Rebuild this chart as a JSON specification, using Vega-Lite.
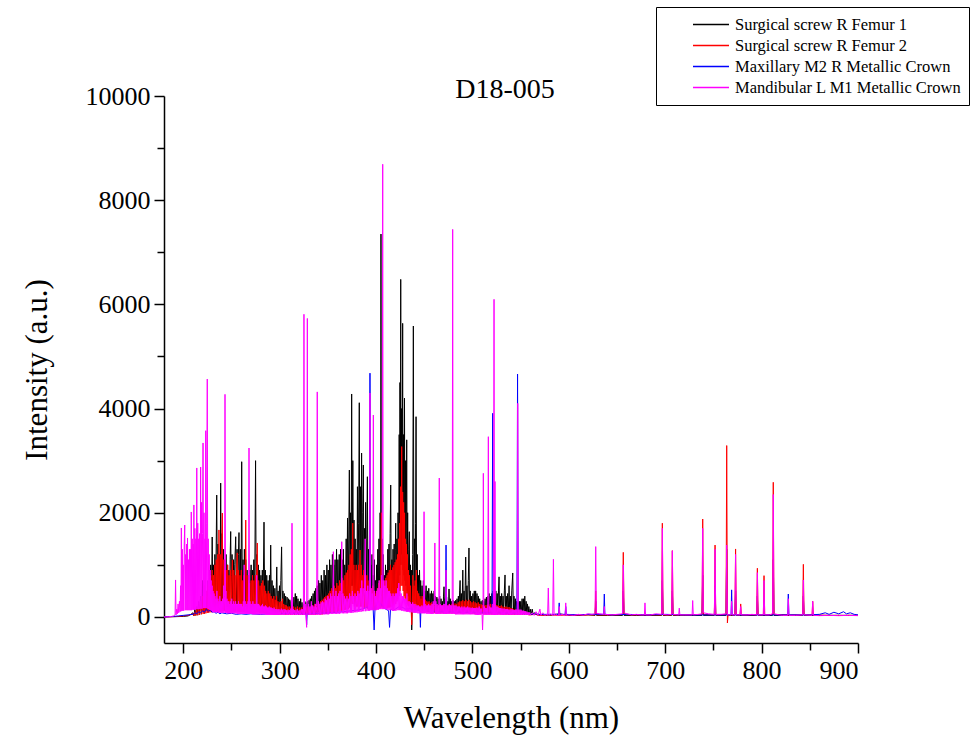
{
"$schema":"https://vega.github.io/schema/vega-lite/v6.json",
"autosize":"none",
"padding":{"left":164,"top":96,"right":121,"bottom":97},
"width":694,"height":547,
"background":"white",
"title":{"text":"D18-005","font":"Liberation Serif","fontSize":28,"fontWeight":"normal","color":"black","anchor":"middle","frame":"group","offset":-4,"dx":-6,"dy":93},
"config":{"view":{"stroke":null},"axis":{"grid":false,"domainColor":"black","tickColor":"black","domainWidth":1.5,"tickWidth":1.5,"labelFont":"Liberation Serif","labelFontSize":26,"labelColor":"black","titleFont":"Liberation Serif","titleFontSize":31,"titleFontWeight":"normal","titleColor":"black"}},
"datasets":{
"k":[{"w":180,"v":0},{"w":190,"v":5},{"w":200,"v":10},{"w":205,"v":20},{"w":208,"v":50},{"w":210,"v":80},{"w":211,"v":20},{"w":212,"v":150},{"w":213,"v":30},{"w":214,"v":200},{"w":215,"v":40},{"w":216,"v":300},{"w":217,"v":50},{"w":218,"v":400},{"w":219,"v":60},{"w":220,"v":700},{"w":220.7,"v":100},{"w":221.4,"v":500},{"w":222.1,"v":100},{"w":222.8,"v":600},{"w":223.5,"v":120},{"w":224.2,"v":500},{"w":225,"v":120},{"w":225.7,"v":700},{"w":226.4,"v":150},{"w":227.1,"v":900},{"w":227.8,"v":150},{"w":228.5,"v":1000},{"w":229.2,"v":180},{"w":230,"v":1535},{"w":230.7,"v":200},{"w":231.4,"v":1000},{"w":232.1,"v":200},{"w":232.8,"v":1200},{"w":233.5,"v":220},{"w":234.7,"v":2340},{"w":235.4,"v":250},{"w":236.1,"v":1400},{"w":236.8,"v":250},{"w":237.5,"v":1200},{"w":238.2,"v":250},{"w":238.8,"v":2570},{"w":239.5,"v":300},{"w":240.2,"v":1600},{"w":240.9,"v":250},{"w":241.6,"v":1300},{"w":242.3,"v":250},{"w":243,"v":1100},{"w":243.7,"v":200},{"w":244.4,"v":1200},{"w":245.1,"v":200},{"w":245.8,"v":1000},{"w":246.5,"v":200},{"w":247.2,"v":900},{"w":248,"v":200},{"w":248.6,"v":1100},{"w":249.2,"v":1640},{"w":249.9,"v":250},{"w":250.6,"v":1200},{"w":251.3,"v":250},{"w":252,"v":1100},{"w":252.7,"v":200},{"w":253.4,"v":1000},{"w":254.4,"v":1540},{"w":255.1,"v":250},{"w":255.8,"v":1300},{"w":256.5,"v":250},{"w":257.2,"v":1200},{"w":257.8,"v":1620},{"w":258.5,"v":250},{"w":259.2,"v":1300},{"w":259.9,"v":250},{"w":260.6,"v":2980},{"w":261.3,"v":250},{"w":262,"v":1100},{"w":262.7,"v":200},{"w":263.4,"v":1300},{"w":264.1,"v":200},{"w":264.8,"v":1100},{"w":265.5,"v":200},{"w":266.2,"v":900},{"w":266.9,"v":180},{"w":267.6,"v":800},{"w":268.3,"v":180},{"w":269,"v":900},{"w":269.7,"v":200},{"w":270.4,"v":1000},{"w":271.1,"v":200},{"w":271.8,"v":900},{"w":272.5,"v":200},{"w":273.2,"v":1100},{"w":274,"v":200},{"w":275,"v":3000},{"w":275.7,"v":250},{"w":276.4,"v":1200},{"w":277.1,"v":250},{"w":277.8,"v":1000},{"w":278.5,"v":200},{"w":279.2,"v":900},{"w":279.9,"v":180},{"w":280.6,"v":800},{"w":281.3,"v":150},{"w":282,"v":900},{"w":282.7,"v":150},{"w":283.75,"v":1820},{"w":284.5,"v":150},{"w":285.2,"v":900},{"w":285.9,"v":150},{"w":286.6,"v":800},{"w":287.3,"v":130},{"w":288,"v":700},{"w":288.7,"v":120},{"w":289.4,"v":800},{"w":290,"v":120},{"w":290.7,"v":1380},{"w":291.4,"v":120},{"w":292.1,"v":700},{"w":292.8,"v":100},{"w":293.5,"v":600},{"w":294.2,"v":100},{"w":295,"v":550},{"w":295.7,"v":100},{"w":296.4,"v":500},{"w":297,"v":960},{"w":297.7,"v":100},{"w":298.4,"v":500},{"w":299.1,"v":100},{"w":299.8,"v":600},{"w":300.5,"v":100},{"w":301.2,"v":700},{"w":302,"v":1345},{"w":302.7,"v":100},{"w":303.4,"v":500},{"w":304.1,"v":90},{"w":304.8,"v":450},{"w":305.5,"v":90},{"w":306.2,"v":400},{"w":307,"v":80},{"w":307.7,"v":380},{"w":308.4,"v":80},{"w":309.1,"v":350},{"w":309.8,"v":80},{"w":310.5,"v":330},{"w":311.2,"v":70},{"w":312,"v":300},{"w":312.7,"v":70},{"w":313.4,"v":300},{"w":314.1,"v":70},{"w":314.8,"v":380},{"w":315.5,"v":70},{"w":316.2,"v":450},{"w":316.9,"v":80},{"w":317.6,"v":400},{"w":318.3,"v":70},{"w":319,"v":350},{"w":319.7,"v":70},{"w":320.4,"v":300},{"w":321.1,"v":60},{"w":321.8,"v":350},{"w":322.5,"v":60},{"w":323.2,"v":280},{"w":324,"v":60},{"w":324.7,"v":250},{"w":325.4,"v":60},{"w":326.1,"v":300},{"w":326.8,"v":60},{"w":327.5,"v":280},{"w":328.2,"v":60},{"w":329,"v":300},{"w":329.7,"v":60},{"w":330.4,"v":320},{"w":331.1,"v":70},{"w":331.8,"v":350},{"w":332.5,"v":70},{"w":333.2,"v":400},{"w":334,"v":70},{"w":334.7,"v":450},{"w":335.4,"v":80},{"w":336.1,"v":500},{"w":336.8,"v":80},{"w":337.5,"v":550},{"w":338.2,"v":90},{"w":339,"v":600},{"w":339.7,"v":90},{"w":340.4,"v":700},{"w":341.1,"v":100},{"w":341.8,"v":650},{"w":342.5,"v":100},{"w":343.2,"v":800},{"w":344,"v":100},{"w":344.7,"v":700},{"w":345.4,"v":110},{"w":346.1,"v":900},{"w":346.8,"v":120},{"w":347.5,"v":800},{"w":348.2,"v":120},{"w":349,"v":1000},{"w":349.7,"v":130},{"w":350.4,"v":900},{"w":351.1,"v":140},{"w":351.8,"v":1100},{"w":352.5,"v":150},{"w":353.2,"v":1000},{"w":354,"v":150},{"w":354.7,"v":1200},{"w":355.4,"v":160},{"w":356.1,"v":1000},{"w":356.8,"v":170},{"w":357.5,"v":1100},{"w":358.2,"v":180},{"w":359,"v":1300},{"w":359.7,"v":190},{"w":360.4,"v":1100},{"w":361.1,"v":200},{"w":361.8,"v":1200},{"w":362.5,"v":200},{"w":363.2,"v":1300},{"w":364,"v":200},{"w":364.7,"v":1100},{"w":365.4,"v":220},{"w":366.1,"v":1300},{"w":366.8,"v":250},{"w":367.5,"v":1000},{"w":368.2,"v":250},{"w":369,"v":1500},{"w":369.7,"v":300},{"w":370.4,"v":1900},{"w":371.1,"v":300},{"w":372.3,"v":2820},{"w":373,"v":400},{"w":373.6,"v":2000},{"w":374.1,"v":600},{"w":374.7,"v":4280},{"w":375.3,"v":600},{"w":375.9,"v":3000},{"w":376.5,"v":500},{"w":377.1,"v":1860},{"w":377.7,"v":400},{"w":378.3,"v":1500},{"w":378.9,"v":400},{"w":379.5,"v":1300},{"w":380.1,"v":400},{"w":380.7,"v":2500},{"w":381.3,"v":500},{"w":381.9,"v":1800},{"w":382.6,"v":4112},{"w":383.2,"v":500},{"w":383.8,"v":2500},{"w":384.4,"v":500},{"w":385,"v":3146},{"w":385.6,"v":500},{"w":386.2,"v":2000},{"w":386.8,"v":2917},{"w":387.4,"v":400},{"w":388,"v":1700},{"w":388.6,"v":400},{"w":389.2,"v":2200},{"w":389.8,"v":400},{"w":390.4,"v":1500},{"w":391,"v":2692},{"w":391.6,"v":350},{"w":392.2,"v":1300},{"w":392.8,"v":300},{"w":393.4,"v":1500},{"w":394,"v":300},{"w":394.6,"v":1000},{"w":395.2,"v":300},{"w":395.8,"v":1200},{"w":396.4,"v":250},{"w":397,"v":800},{"w":397.6,"v":250},{"w":398.2,"v":1100},{"w":398.8,"v":250},{"w":399.4,"v":700},{"w":400,"v":250},{"w":400.6,"v":1000},{"w":401.2,"v":300},{"w":401.8,"v":1300},{"w":402.4,"v":300},{"w":403,"v":1500},{"w":403.6,"v":350},{"w":404.2,"v":2000},{"w":404.7,"v":400},{"w":405.1,"v":7350},{"w":405.6,"v":400},{"w":406.2,"v":1500},{"w":406.8,"v":300},{"w":407.4,"v":1200},{"w":408,"v":300},{"w":408.6,"v":800},{"w":409.2,"v":250},{"w":409.8,"v":1000},{"w":410.4,"v":250},{"w":411,"v":900},{"w":411.6,"v":300},{"w":412.2,"v":1300},{"w":412.8,"v":300},{"w":413.4,"v":1400},{"w":414,"v":350},{"w":414.6,"v":1600},{"w":415.2,"v":2533},{"w":415.8,"v":400},{"w":416.4,"v":1100},{"w":417,"v":350},{"w":417.6,"v":1300},{"w":418.2,"v":350},{"w":418.8,"v":1400},{"w":419.4,"v":400},{"w":420,"v":1300},{"w":420.4,"v":1800},{"w":421,"v":400},{"w":421.6,"v":1500},{"w":422.2,"v":500},{"w":422.8,"v":2000},{"w":423.4,"v":600},{"w":424,"v":3500},{"w":424.5,"v":800},{"w":424.8,"v":4500},{"w":425.2,"v":1000},{"w":425.6,"v":6480},{"w":426,"v":1200},{"w":426.5,"v":4000},{"w":427,"v":1000},{"w":427.6,"v":5636},{"w":428,"v":900},{"w":428.5,"v":3500},{"w":429,"v":800},{"w":429.5,"v":4200},{"w":430,"v":700},{"w":430.5,"v":3000},{"w":431,"v":600},{"w":431.8,"v":3400},{"w":432.3,"v":500},{"w":432.8,"v":2000},{"w":433.3,"v":400},{"w":434,"v":1300},{"w":434.5,"v":1637},{"w":435,"v":300},{"w":435.6,"v":1000},{"w":436.2,"v":250},{"w":436.6,"v":900},{"w":437,"v":-250},{"w":437.5,"v":300},{"w":438,"v":1200},{"w":438.7,"v":5585},{"w":439.3,"v":300},{"w":439.9,"v":1500},{"w":440.5,"v":300},{"w":441,"v":1800},{"w":441.5,"v":3844},{"w":442.1,"v":250},{"w":442.7,"v":1200},{"w":443.3,"v":200},{"w":443.9,"v":800},{"w":444.5,"v":200},{"w":445.1,"v":900},{"w":445.7,"v":180},{"w":446.3,"v":700},{"w":447,"v":180},{"w":447.7,"v":600},{"w":448.4,"v":160},{"w":449.1,"v":700},{"w":449.8,"v":150},{"w":450.5,"v":500},{"w":451.2,"v":150},{"w":451.9,"v":600},{"w":452.6,"v":140},{"w":453.3,"v":500},{"w":454,"v":140},{"w":454.7,"v":550},{"w":455.4,"v":130},{"w":456.1,"v":450},{"w":456.8,"v":130},{"w":457.5,"v":500},{"w":458.2,"v":120},{"w":458.9,"v":450},{"w":459.6,"v":120},{"w":460.3,"v":500},{"w":461,"v":120},{"w":461.7,"v":400},{"w":462.4,"v":110},{"w":463.1,"v":380},{"w":463.8,"v":110},{"w":464.5,"v":350},{"w":465.2,"v":100},{"w":466,"v":400},{"w":466.7,"v":100},{"w":467.4,"v":350},{"w":468.1,"v":100},{"w":468.8,"v":300},{"w":469.5,"v":100},{"w":470,"v":400},{"w":470.5,"v":580},{"w":471.1,"v":100},{"w":471.8,"v":350},{"w":472.5,"v":100},{"w":473.2,"v":380},{"w":473.9,"v":100},{"w":474.6,"v":300},{"w":475.2,"v":100},{"w":475.7,"v":537},{"w":476.3,"v":100},{"w":477,"v":350},{"w":477.7,"v":90},{"w":478.4,"v":300},{"w":479.1,"v":90},{"w":479.8,"v":320},{"w":480.5,"v":90},{"w":481.2,"v":300},{"w":481.9,"v":90},{"w":482.6,"v":320},{"w":483.3,"v":90},{"w":484,"v":350},{"w":484.7,"v":90},{"w":485.4,"v":400},{"w":486.1,"v":100},{"w":486.7,"v":500},{"w":487.2,"v":700},{"w":487.8,"v":100},{"w":488.5,"v":450},{"w":489.2,"v":100},{"w":490,"v":900},{"w":490.6,"v":100},{"w":491.3,"v":500},{"w":492,"v":100},{"w":492.5,"v":600},{"w":493,"v":1150},{"w":493.6,"v":100},{"w":494.3,"v":600},{"w":495,"v":100},{"w":495.7,"v":700},{"w":496.4,"v":1324},{"w":497,"v":100},{"w":497.7,"v":500},{"w":498.4,"v":90},{"w":499.1,"v":400},{"w":499.8,"v":90},{"w":500.5,"v":450},{"w":501.2,"v":90},{"w":501.9,"v":500},{"w":502.6,"v":90},{"w":503.3,"v":500},{"w":504,"v":90},{"w":504.7,"v":450},{"w":505.4,"v":90},{"w":506.1,"v":400},{"w":506.8,"v":80},{"w":507.5,"v":350},{"w":508.2,"v":80},{"w":508.9,"v":300},{"w":509.6,"v":80},{"w":510.3,"v":320},{"w":511,"v":80},{"w":511.7,"v":300},{"w":512.4,"v":80},{"w":513.1,"v":350},{"w":513.8,"v":80},{"w":514.5,"v":380},{"w":515.2,"v":80},{"w":515.9,"v":400},{"w":516.6,"v":80},{"w":517.3,"v":450},{"w":518,"v":80},{"w":518.7,"v":400},{"w":519.4,"v":80},{"w":520.1,"v":450},{"w":520.8,"v":80},{"w":521.5,"v":500},{"w":522.2,"v":80},{"w":522.9,"v":450},{"w":523.6,"v":80},{"w":524.3,"v":500},{"w":525,"v":80},{"w":525.7,"v":450},{"w":526.4,"v":80},{"w":527,"v":500},{"w":527.6,"v":770},{"w":528.2,"v":80},{"w":528.9,"v":400},{"w":529.6,"v":80},{"w":530.3,"v":450},{"w":531,"v":80},{"w":531.7,"v":400},{"w":532.4,"v":80},{"w":533.1,"v":500},{"w":533.8,"v":806},{"w":534.4,"v":80},{"w":535.1,"v":400},{"w":535.8,"v":80},{"w":536.5,"v":450},{"w":537.2,"v":80},{"w":538,"v":600},{"w":538.7,"v":80},{"w":539.4,"v":400},{"w":540.1,"v":80},{"w":540.8,"v":500},{"w":541.8,"v":844},{"w":542.4,"v":80},{"w":543.1,"v":400},{"w":543.8,"v":70},{"w":544.5,"v":350},{"w":545.2,"v":70},{"w":545.9,"v":300},{"w":546.6,"v":60},{"w":547.3,"v":280},{"w":548,"v":60},{"w":548.7,"v":300},{"w":549.4,"v":60},{"w":550.1,"v":300},{"w":550.8,"v":60},{"w":551.5,"v":350},{"w":552.2,"v":60},{"w":552.9,"v":350},{"w":553.6,"v":60},{"w":554.3,"v":400},{"w":555,"v":60},{"w":555.7,"v":300},{"w":556.4,"v":50},{"w":557.1,"v":250},{"w":557.8,"v":50},{"w":558.5,"v":200},{"w":559.2,"v":50},{"w":560,"v":150},{"w":561,"v":40},{"w":562,"v":150},{"w":563,"v":40},{"w":564,"v":80},{"w":567,"v":40},{"w":570,"v":40},{"w":580,"v":30},{"w":590,"v":60},{"w":600,"v":30},{"w":610,"v":30},{"w":620,"v":40},{"w":627.2,"v":30},{"w":628,"v":300},{"w":628.8,"v":30},{"w":640,"v":30},{"w":655.7,"v":30},{"w":656.5,"v":500},{"w":657.3,"v":30},{"w":670,"v":30},{"w":696.2,"v":30},{"w":697,"v":700},{"w":697.8,"v":30},{"w":706.6,"v":30},{"w":707.4,"v":500},{"w":708.2,"v":30},{"w":738.1,"v":30},{"w":738.9,"v":800},{"w":739.7,"v":30},{"w":750.9,"v":30},{"w":751.7,"v":600},{"w":752.5,"v":30},{"w":763,"v":30},{"w":763.8,"v":1300},{"w":764.6,"v":30},{"w":772.2,"v":30},{"w":773,"v":500},{"w":773.8,"v":30},{"w":794.8,"v":30},{"w":795.6,"v":400},{"w":796.4,"v":30},{"w":811.3,"v":30},{"w":812.1,"v":1100},{"w":812.9,"v":30},{"w":842.5,"v":30},{"w":843.3,"v":400},{"w":844.1,"v":30},{"w":870,"v":30},{"w":900,"v":30}],
"r":[{"w":180,"v":0},{"w":195,"v":10},{"w":205,"v":30},{"w":210,"v":60},{"w":211,"v":20},{"w":212,"v":100},{"w":213,"v":30},{"w":214,"v":150},{"w":215,"v":30},{"w":216,"v":200},{"w":217,"v":40},{"w":218,"v":300},{"w":219,"v":50},{"w":220,"v":400},{"w":220.7,"v":60},{"w":221.4,"v":500},{"w":222.1,"v":60},{"w":222.8,"v":600},{"w":223.5,"v":70},{"w":224.2,"v":500},{"w":225,"v":80},{"w":225.7,"v":600},{"w":226.4,"v":80},{"w":227.1,"v":700},{"w":227.8,"v":90},{"w":228.5,"v":800},{"w":229.2,"v":90},{"w":230,"v":900},{"w":230.7,"v":100},{"w":231.4,"v":800},{"w":232.1,"v":100},{"w":232.8,"v":1000},{"w":233.5,"v":100},{"w":234.2,"v":1100},{"w":235,"v":110},{"w":235.7,"v":1200},{"w":236.4,"v":110},{"w":237,"v":1670},{"w":237.7,"v":120},{"w":238.4,"v":1200},{"w":239.1,"v":120},{"w":239.8,"v":1300},{"w":240.5,"v":1995},{"w":241.2,"v":120},{"w":241.9,"v":1100},{"w":242.6,"v":120},{"w":243.3,"v":900},{"w":244,"v":110},{"w":244.7,"v":900},{"w":245.4,"v":110},{"w":246.1,"v":1000},{"w":246.8,"v":110},{"w":247.5,"v":800},{"w":248.2,"v":100},{"w":249,"v":900},{"w":249.7,"v":100},{"w":250.4,"v":800},{"w":251,"v":1095},{"w":251.7,"v":100},{"w":252.4,"v":900},{"w":253.1,"v":100},{"w":253.8,"v":800},{"w":254.5,"v":100},{"w":255.2,"v":900},{"w":256,"v":1230},{"w":256.7,"v":100},{"w":257.4,"v":900},{"w":258.1,"v":100},{"w":258.8,"v":800},{"w":259.5,"v":100},{"w":260.2,"v":900},{"w":260.9,"v":100},{"w":261.6,"v":700},{"w":262.3,"v":100},{"w":263,"v":800},{"w":263.7,"v":100},{"w":264.3,"v":900},{"w":264.8,"v":1860},{"w":265.5,"v":100},{"w":266.2,"v":800},{"w":266.9,"v":100},{"w":267.6,"v":700},{"w":268.3,"v":90},{"w":269,"v":650},{"w":269.7,"v":90},{"w":270.4,"v":700},{"w":271.1,"v":90},{"w":271.8,"v":800},{"w":272.5,"v":90},{"w":273.2,"v":700},{"w":274,"v":90},{"w":274.7,"v":800},{"w":275.4,"v":90},{"w":276.1,"v":900},{"w":276.8,"v":1420},{"w":277.5,"v":90},{"w":278.2,"v":700},{"w":279,"v":80},{"w":279.7,"v":600},{"w":280.4,"v":80},{"w":281.1,"v":650},{"w":281.8,"v":80},{"w":282.5,"v":700},{"w":283.2,"v":80},{"w":284,"v":600},{"w":284.7,"v":70},{"w":285.4,"v":500},{"w":286.1,"v":70},{"w":286.8,"v":450},{"w":287.5,"v":70},{"w":288.2,"v":500},{"w":289,"v":60},{"w":289.7,"v":450},{"w":290.4,"v":60},{"w":291.1,"v":400},{"w":291.8,"v":60},{"w":292.5,"v":350},{"w":293.2,"v":50},{"w":294,"v":400},{"w":294.7,"v":50},{"w":295.4,"v":330},{"w":296.1,"v":50},{"w":296.8,"v":400},{"w":297.5,"v":50},{"w":298.2,"v":300},{"w":299,"v":50},{"w":300,"v":280},{"w":300.7,"v":50},{"w":301.4,"v":300},{"w":302.1,"v":50},{"w":302.8,"v":350},{"w":303.5,"v":50},{"w":304.2,"v":250},{"w":305,"v":50},{"w":305.7,"v":230},{"w":306.4,"v":40},{"w":307.1,"v":220},{"w":307.8,"v":40},{"w":308.5,"v":200},{"w":309.5,"v":40},{"w":310.5,"v":200},{"w":311.5,"v":40},{"w":312.5,"v":180},{"w":313.5,"v":40},{"w":314.5,"v":200},{"w":315.5,"v":40},{"w":316.5,"v":180},{"w":317.5,"v":40},{"w":318.5,"v":200},{"w":319.5,"v":40},{"w":320.5,"v":180},{"w":321.5,"v":40},{"w":322.5,"v":180},{"w":323.5,"v":40},{"w":324.5,"v":200},{"w":325.5,"v":40},{"w":326.5,"v":180},{"w":327.5,"v":40},{"w":328.5,"v":200},{"w":329.5,"v":40},{"w":330.5,"v":180},{"w":331.5,"v":40},{"w":332.5,"v":200},{"w":333.5,"v":40},{"w":334.5,"v":220},{"w":335.5,"v":40},{"w":336.5,"v":250},{"w":337.5,"v":40},{"w":338.5,"v":250},{"w":339.5,"v":50},{"w":340.5,"v":280},{"w":341.5,"v":50},{"w":342.5,"v":300},{"w":343.2,"v":50},{"w":343.9,"v":320},{"w":344.6,"v":50},{"w":345.3,"v":350},{"w":346,"v":60},{"w":346.7,"v":380},{"w":347.4,"v":60},{"w":348.1,"v":400},{"w":348.8,"v":60},{"w":349.5,"v":420},{"w":350.2,"v":70},{"w":350.9,"v":450},{"w":351.6,"v":70},{"w":352.3,"v":500},{"w":353,"v":80},{"w":353.7,"v":550},{"w":354.4,"v":80},{"w":355.1,"v":500},{"w":355.8,"v":90},{"w":356.5,"v":600},{"w":357.2,"v":90},{"w":357.9,"v":550},{"w":358.6,"v":100},{"w":359.3,"v":650},{"w":360,"v":100},{"w":360.7,"v":600},{"w":361.4,"v":110},{"w":362.1,"v":700},{"w":362.8,"v":110},{"w":363.5,"v":650},{"w":364.2,"v":120},{"w":364.9,"v":750},{"w":365.6,"v":120},{"w":366.3,"v":700},{"w":367,"v":130},{"w":367.7,"v":800},{"w":368.4,"v":140},{"w":369.1,"v":850},{"w":369.8,"v":150},{"w":370.5,"v":900},{"w":371.2,"v":150},{"w":371.9,"v":1000},{"w":372.6,"v":180},{"w":373.2,"v":1200},{"w":373.8,"v":200},{"w":374.4,"v":1300},{"w":375.1,"v":250},{"w":375.8,"v":1800},{"w":376.4,"v":250},{"w":377,"v":1000},{"w":377.6,"v":200},{"w":378.2,"v":900},{"w":378.8,"v":200},{"w":379.4,"v":1000},{"w":380,"v":200},{"w":380.6,"v":900},{"w":381.2,"v":200},{"w":381.8,"v":1000},{"w":382.5,"v":200},{"w":383.4,"v":1285},{"w":384,"v":200},{"w":384.6,"v":1000},{"w":385.2,"v":200},{"w":385.8,"v":800},{"w":386.4,"v":180},{"w":387,"v":900},{"w":387.6,"v":180},{"w":388.2,"v":800},{"w":388.8,"v":170},{"w":389.4,"v":700},{"w":390,"v":170},{"w":390.6,"v":800},{"w":391.2,"v":160},{"w":391.8,"v":700},{"w":392.4,"v":150},{"w":393,"v":650},{"w":393.6,"v":150},{"w":394.2,"v":600},{"w":394.8,"v":150},{"w":395.4,"v":550},{"w":396,"v":140},{"w":396.6,"v":600},{"w":397.2,"v":140},{"w":397.8,"v":500},{"w":398.4,"v":140},{"w":399,"v":450},{"w":399.6,"v":140},{"w":400.2,"v":500},{"w":400.8,"v":150},{"w":401.4,"v":550},{"w":402,"v":150},{"w":402.6,"v":650},{"w":403.2,"v":160},{"w":403.8,"v":700},{"w":404.4,"v":170},{"w":405,"v":900},{"w":405.5,"v":2000},{"w":406,"v":180},{"w":406.6,"v":700},{"w":407.2,"v":170},{"w":407.8,"v":650},{"w":408.4,"v":160},{"w":409,"v":700},{"w":409.6,"v":160},{"w":410.2,"v":750},{"w":410.8,"v":170},{"w":411.4,"v":800},{"w":412,"v":170},{"w":412.6,"v":850},{"w":413.2,"v":180},{"w":413.8,"v":900},{"w":414.4,"v":180},{"w":415,"v":1000},{"w":415.6,"v":200},{"w":416.2,"v":900},{"w":416.8,"v":200},{"w":417.4,"v":950},{"w":418,"v":220},{"w":418.6,"v":1000},{"w":419.2,"v":230},{"w":419.8,"v":1050},{"w":420.4,"v":250},{"w":421,"v":1100},{"w":421.6,"v":300},{"w":422.2,"v":1200},{"w":422.8,"v":350},{"w":423.4,"v":1500},{"w":423.9,"v":400},{"w":424.4,"v":1800},{"w":424.9,"v":500},{"w":425.4,"v":2500},{"w":425.9,"v":600},{"w":426.6,"v":3270},{"w":427.1,"v":600},{"w":427.6,"v":2400},{"w":428.1,"v":500},{"w":428.6,"v":2200},{"w":429.1,"v":400},{"w":429.6,"v":2000},{"w":430.1,"v":350},{"w":430.6,"v":1500},{"w":431.1,"v":300},{"w":431.6,"v":1400},{"w":432.1,"v":250},{"w":432.6,"v":1200},{"w":433.1,"v":220},{"w":433.6,"v":900},{"w":434.1,"v":200},{"w":434.6,"v":800},{"w":435.2,"v":180},{"w":435.8,"v":600},{"w":436.4,"v":150},{"w":437,"v":-150},{"w":437.6,"v":150},{"w":438.2,"v":800},{"w":438.8,"v":150},{"w":439.4,"v":600},{"w":440,"v":150},{"w":440.6,"v":700},{"w":441.2,"v":140},{"w":441.8,"v":900},{"w":442.4,"v":140},{"w":443,"v":500},{"w":443.6,"v":130},{"w":444.2,"v":450},{"w":444.8,"v":120},{"w":445.4,"v":400},{"w":446,"v":120},{"w":446.6,"v":350},{"w":447.2,"v":110},{"w":447.8,"v":400},{"w":448.4,"v":110},{"w":449,"v":350},{"w":449.6,"v":100},{"w":450.2,"v":300},{"w":450.8,"v":100},{"w":451.4,"v":330},{"w":452,"v":100},{"w":452.6,"v":300},{"w":453.2,"v":90},{"w":453.8,"v":280},{"w":454.4,"v":90},{"w":455,"v":300},{"w":455.6,"v":90},{"w":456.2,"v":260},{"w":456.8,"v":80},{"w":457.4,"v":280},{"w":458,"v":80},{"w":458.6,"v":250},{"w":459.2,"v":80},{"w":459.8,"v":260},{"w":460.5,"v":80},{"w":461.2,"v":250},{"w":462,"v":80},{"w":462.8,"v":240},{"w":463.6,"v":70},{"w":464.4,"v":230},{"w":465.2,"v":70},{"w":466,"v":240},{"w":466.8,"v":70},{"w":467.6,"v":220},{"w":468.4,"v":70},{"w":469.2,"v":230},{"w":470,"v":70},{"w":470.8,"v":220},{"w":471.6,"v":70},{"w":472.4,"v":230},{"w":473.2,"v":70},{"w":474,"v":220},{"w":474.8,"v":70},{"w":475.6,"v":240},{"w":476.4,"v":70},{"w":477.2,"v":230},{"w":478,"v":70},{"w":478.8,"v":250},{"w":479.6,"v":70},{"w":480.4,"v":240},{"w":481.2,"v":70},{"w":482,"v":260},{"w":482.8,"v":70},{"w":483.6,"v":250},{"w":484.4,"v":70},{"w":485.2,"v":280},{"w":486,"v":70},{"w":486.8,"v":300},{"w":487.6,"v":70},{"w":488.4,"v":300},{"w":489.2,"v":70},{"w":490,"v":320},{"w":490.8,"v":70},{"w":491.6,"v":300},{"w":492.4,"v":70},{"w":493.2,"v":330},{"w":494,"v":70},{"w":494.8,"v":300},{"w":495.6,"v":70},{"w":496.4,"v":330},{"w":497.2,"v":70},{"w":498,"v":300},{"w":498.8,"v":60},{"w":499.6,"v":280},{"w":500.4,"v":60},{"w":501.2,"v":300},{"w":502,"v":60},{"w":502.8,"v":280},{"w":503.6,"v":60},{"w":504.4,"v":260},{"w":505.2,"v":60},{"w":506,"v":280},{"w":506.8,"v":60},{"w":507.6,"v":250},{"w":508.4,"v":60},{"w":509.2,"v":240},{"w":510,"v":60},{"w":510.8,"v":230},{"w":511.6,"v":60},{"w":512.4,"v":220},{"w":513.2,"v":50},{"w":514,"v":230},{"w":514.8,"v":50},{"w":515.6,"v":220},{"w":516.4,"v":50},{"w":517.2,"v":240},{"w":518,"v":50},{"w":518.8,"v":250},{"w":519.6,"v":50},{"w":520.4,"v":240},{"w":521.2,"v":50},{"w":522,"v":260},{"w":522.8,"v":50},{"w":523.6,"v":240},{"w":524.4,"v":50},{"w":525.2,"v":230},{"w":526,"v":50},{"w":526.8,"v":220},{"w":527.6,"v":50},{"w":528.4,"v":210},{"w":529.2,"v":50},{"w":530,"v":220},{"w":530.8,"v":45},{"w":531.6,"v":200},{"w":532.4,"v":45},{"w":533.2,"v":190},{"w":534,"v":45},{"w":534.8,"v":200},{"w":535.6,"v":45},{"w":536.4,"v":180},{"w":537.2,"v":40},{"w":538,"v":190},{"w":538.8,"v":40},{"w":539.6,"v":170},{"w":540.4,"v":40},{"w":541.2,"v":170},{"w":542,"v":40},{"w":542.8,"v":150},{"w":543.6,"v":40},{"w":544.4,"v":140},{"w":545.2,"v":40},{"w":546,"v":150},{"w":546.8,"v":40},{"w":547.6,"v":130},{"w":548.4,"v":40},{"w":549.2,"v":120},{"w":550,"v":40},{"w":551,"v":110},{"w":552,"v":40},{"w":553,"v":100},{"w":554,"v":40},{"w":555,"v":100},{"w":556,"v":40},{"w":557,"v":80},{"w":558,"v":40},{"w":560,"v":40},{"w":565,"v":50},{"w":570,"v":30},{"w":580,"v":40},{"w":590,"v":30},{"w":600,"v":40},{"w":610,"v":30},{"w":620,"v":40},{"w":627.2,"v":40},{"w":627.9,"v":500},{"w":628.6,"v":40},{"w":640,"v":40},{"w":650,"v":40},{"w":655.7,"v":50},{"w":656.5,"v":1240},{"w":657.3,"v":60},{"w":665,"v":40},{"w":680,"v":40},{"w":690,"v":40},{"w":696.3,"v":40},{"w":697,"v":1800},{"w":697.7,"v":40},{"w":706.7,"v":40},{"w":707.4,"v":1272},{"w":708.1,"v":40},{"w":720,"v":40},{"w":738.2,"v":50},{"w":738.9,"v":1880},{"w":739.6,"v":50},{"w":751,"v":40},{"w":751.7,"v":1380},{"w":752.4,"v":40},{"w":763.1,"v":50},{"w":763.8,"v":3290},{"w":764.5,"v":-115},{"w":765.2,"v":40},{"w":772.3,"v":40},{"w":773,"v":1305},{"w":773.7,"v":40},{"w":777.6,"v":40},{"w":778.3,"v":250},{"w":779,"v":40},{"w":794.9,"v":40},{"w":795.6,"v":935},{"w":796.3,"v":40},{"w":801.8,"v":40},{"w":802.5,"v":793},{"w":803.2,"v":40},{"w":811.4,"v":50},{"w":812.1,"v":2585},{"w":812.8,"v":50},{"w":830,"v":40},{"w":842.6,"v":40},{"w":843.3,"v":1010},{"w":844,"v":40},{"w":852.4,"v":40},{"w":853,"v":300},{"w":853.7,"v":40},{"w":870,"v":30},{"w":900,"v":30}],
"b":[{"w":180,"v":0},{"w":190,"v":10},{"w":195,"v":20},{"w":200,"v":30},{"w":205,"v":40},{"w":210,"v":50},{"w":212,"v":80},{"w":214,"v":60},{"w":216,"v":100},{"w":218,"v":80},{"w":220,"v":120},{"w":222,"v":90},{"w":224,"v":150},{"w":226,"v":110},{"w":228,"v":130},{"w":230,"v":90},{"w":232,"v":100},{"w":234,"v":70},{"w":236,"v":90},{"w":238,"v":60},{"w":240,"v":80},{"w":245,"v":60},{"w":250,"v":70},{"w":255,"v":50},{"w":260,"v":60},{"w":265,"v":50},{"w":270,"v":60},{"w":280,"v":50},{"w":290,"v":60},{"w":300,"v":60},{"w":310,"v":70},{"w":320,"v":60},{"w":327.5,"v":60},{"w":328,"v":-150},{"w":328.5,"v":60},{"w":340,"v":70},{"w":350,"v":80},{"w":360,"v":90},{"w":370,"v":110},{"w":380,"v":130},{"w":385,"v":150},{"w":390,"v":180},{"w":393,"v":200},{"w":393.7,"v":4680},{"w":394.4,"v":200},{"w":397,"v":150},{"w":398,"v":-250},{"w":399,"v":200},{"w":401,"v":250},{"w":403,"v":300},{"w":405,"v":250},{"w":407,"v":200},{"w":410,"v":150},{"w":413,"v":120},{"w":414,"v":-200},{"w":415,"v":150},{"w":418,"v":130},{"w":420,"v":150},{"w":424,"v":200},{"w":428,"v":180},{"w":430,"v":150},{"w":434,"v":160},{"w":438,"v":150},{"w":442,"v":130},{"w":445.5,"v":120},{"w":446,"v":-200},{"w":446.5,"v":120},{"w":450,"v":130},{"w":455,"v":110},{"w":460,"v":110},{"w":465,"v":100},{"w":471.9,"v":100},{"w":472.6,"v":1380},{"w":473.3,"v":100},{"w":480,"v":100},{"w":490,"v":90},{"w":500,"v":90},{"w":510,"v":80},{"w":520.3,"v":80},{"w":521,"v":3909},{"w":521.7,"v":80},{"w":530,"v":80},{"w":540,"v":70},{"w":546.1,"v":70},{"w":546.8,"v":4663},{"w":547.5,"v":70},{"w":555,"v":60},{"w":560,"v":50},{"w":565,"v":60},{"w":570,"v":50},{"w":580,"v":50},{"w":589.4,"v":50},{"w":590,"v":270},{"w":590.6,"v":50},{"w":596.2,"v":50},{"w":596.8,"v":200},{"w":597.4,"v":50},{"w":610,"v":40},{"w":620,"v":50},{"w":630,"v":50},{"w":636.2,"v":50},{"w":636.8,"v":440},{"w":637.4,"v":50},{"w":645,"v":40},{"w":660,"v":50},{"w":680,"v":40},{"w":700,"v":50},{"w":720,"v":40},{"w":740,"v":40},{"w":760,"v":40},{"w":768.3,"v":40},{"w":768.9,"v":520},{"w":769.5,"v":40},{"w":790,"v":40},{"w":810,"v":40},{"w":827.1,"v":40},{"w":827.7,"v":440},{"w":828.3,"v":40},{"w":850,"v":40},{"w":860,"v":50},{"w":866,"v":80},{"w":870,"v":50},{"w":875,"v":90},{"w":880,"v":60},{"w":885,"v":100},{"w":888,"v":60},{"w":892,"v":80},{"w":896,"v":50},{"w":900,"v":40}],
"m":[{"w":180,"v":0},{"w":185,"v":5},{"w":188,"v":10},{"w":190,"v":20},{"w":191.5,"v":40},{"w":192,"v":710},{"w":192.5,"v":40},{"w":193.2,"v":150},{"w":193.9,"v":60},{"w":194.6,"v":250},{"w":195.3,"v":80},{"w":196,"v":300},{"w":196.6,"v":100},{"w":197.2,"v":600},{"w":197.6,"v":110},{"w":198,"v":1708},{"w":198.5,"v":120},{"w":199,"v":1300},{"w":199.5,"v":120},{"w":200,"v":1000},{"w":200.5,"v":120},{"w":201,"v":1400},{"w":201.5,"v":1765},{"w":202,"v":130},{"w":202.5,"v":1200},{"w":203,"v":130},{"w":203.5,"v":1400},{"w":204,"v":130},{"w":204.4,"v":1516},{"w":204.9,"v":130},{"w":205.4,"v":1100},{"w":205.9,"v":130},{"w":206.4,"v":1300},{"w":206.9,"v":130},{"w":207.4,"v":1300},{"w":207.9,"v":130},{"w":208.3,"v":2015},{"w":208.8,"v":130},{"w":209.3,"v":1500},{"w":209.8,"v":140},{"w":210.3,"v":1400},{"w":210.7,"v":140},{"w":211,"v":2150},{"w":211.5,"v":140},{"w":212,"v":1700},{"w":212.5,"v":140},{"w":213,"v":1500},{"w":213.5,"v":150},{"w":214,"v":2860},{"w":214.5,"v":150},{"w":215,"v":1800},{"w":215.5,"v":150},{"w":216,"v":1500},{"w":216.5,"v":150},{"w":217,"v":1600},{"w":217.5,"v":160},{"w":218,"v":2878},{"w":218.5,"v":160},{"w":219,"v":2200},{"w":219.5,"v":160},{"w":220,"v":1600},{"w":220.5,"v":3340},{"w":221,"v":170},{"w":221.5,"v":2000},{"w":222,"v":170},{"w":222.5,"v":1500},{"w":223,"v":170},{"w":223.3,"v":3575},{"w":223.8,"v":170},{"w":224.3,"v":1800},{"w":224.9,"v":4567},{"w":225.4,"v":160},{"w":225.9,"v":1500},{"w":226.4,"v":150},{"w":226.9,"v":1200},{"w":227.4,"v":140},{"w":227.9,"v":900},{"w":228.4,"v":130},{"w":228.9,"v":700},{"w":229.4,"v":120},{"w":229.9,"v":600},{"w":230.4,"v":90},{"w":230.9,"v":500},{"w":231.4,"v":90},{"w":231.9,"v":450},{"w":232.4,"v":90},{"w":232.9,"v":400},{"w":233.4,"v":90},{"w":233.9,"v":350},{"w":234.4,"v":90},{"w":234.9,"v":500},{"w":235.4,"v":90},{"w":235.9,"v":350},{"w":236.4,"v":80},{"w":236.9,"v":300},{"w":237.4,"v":80},{"w":237.9,"v":400},{"w":238.4,"v":80},{"w":238.9,"v":300},{"w":239.4,"v":80},{"w":239.9,"v":300},{"w":240.4,"v":80},{"w":240.9,"v":350},{"w":241.4,"v":80},{"w":241.9,"v":600},{"w":242.4,"v":80},{"w":242.9,"v":400},{"w":243.3,"v":4273},{"w":243.8,"v":80},{"w":244.3,"v":500},{"w":244.8,"v":80},{"w":245.3,"v":350},{"w":245.8,"v":70},{"w":246.3,"v":300},{"w":246.8,"v":70},{"w":247.3,"v":300},{"w":247.8,"v":70},{"w":248.3,"v":250},{"w":248.8,"v":70},{"w":249.3,"v":300},{"w":249.8,"v":70},{"w":250.3,"v":350},{"w":250.8,"v":70},{"w":251.3,"v":250},{"w":251.8,"v":70},{"w":252.3,"v":300},{"w":252.8,"v":70},{"w":253.3,"v":250},{"w":253.8,"v":70},{"w":254.3,"v":300},{"w":254.8,"v":70},{"w":255.3,"v":250},{"w":255.8,"v":60},{"w":256.3,"v":250},{"w":256.8,"v":60},{"w":257.3,"v":300},{"w":257.8,"v":60},{"w":258.3,"v":250},{"w":258.8,"v":60},{"w":259.3,"v":250},{"w":259.8,"v":60},{"w":260.3,"v":250},{"w":260.8,"v":60},{"w":261.3,"v":200},{"w":261.8,"v":60},{"w":262.3,"v":300},{"w":262.8,"v":60},{"w":263.2,"v":1000},{"w":263.7,"v":60},{"w":264.2,"v":300},{"w":264.7,"v":60},{"w":265.2,"v":250},{"w":265.7,"v":60},{"w":266.2,"v":250},{"w":266.7,"v":60},{"w":267.2,"v":300},{"w":267.7,"v":60},{"w":268.2,"v":3243},{"w":268.7,"v":60},{"w":269.2,"v":300},{"w":269.7,"v":60},{"w":270.2,"v":250},{"w":270.7,"v":60},{"w":271.2,"v":250},{"w":271.7,"v":50},{"w":272.2,"v":300},{"w":272.7,"v":50},{"w":273.2,"v":250},{"w":273.7,"v":50},{"w":274.2,"v":250},{"w":274.7,"v":50},{"w":275.2,"v":250},{"w":275.7,"v":50},{"w":276.2,"v":800},{"w":276.7,"v":50},{"w":277.2,"v":250},{"w":277.7,"v":50},{"w":278.2,"v":250},{"w":278.7,"v":50},{"w":279.2,"v":220},{"w":279.7,"v":50},{"w":280.2,"v":200},{"w":280.7,"v":50},{"w":281.2,"v":220},{"w":281.7,"v":50},{"w":282.2,"v":250},{"w":282.7,"v":50},{"w":283.2,"v":200},{"w":283.7,"v":50},{"w":284.2,"v":200},{"w":284.7,"v":50},{"w":285.2,"v":220},{"w":285.7,"v":40},{"w":286.2,"v":200},{"w":286.7,"v":40},{"w":287.2,"v":180},{"w":287.7,"v":40},{"w":288.2,"v":180},{"w":288.7,"v":40},{"w":289.2,"v":200},{"w":289.7,"v":40},{"w":290.2,"v":180},{"w":290.7,"v":40},{"w":291.2,"v":180},{"w":291.7,"v":40},{"w":292.2,"v":170},{"w":292.7,"v":40},{"w":293.2,"v":150},{"w":293.7,"v":40},{"w":294.2,"v":180},{"w":294.7,"v":40},{"w":295.2,"v":150},{"w":295.7,"v":40},{"w":296.2,"v":150},{"w":296.7,"v":40},{"w":297.2,"v":150},{"w":297.7,"v":40},{"w":298.2,"v":140},{"w":298.7,"v":40},{"w":299.2,"v":150},{"w":299.7,"v":40},{"w":300.4,"v":140},{"w":301.1,"v":40},{"w":301.8,"v":160},{"w":302.5,"v":40},{"w":303.2,"v":140},{"w":303.9,"v":40},{"w":304.6,"v":150},{"w":305.3,"v":40},{"w":306,"v":140},{"w":306.7,"v":40},{"w":307.4,"v":130},{"w":308.1,"v":40},{"w":308.8,"v":140},{"w":309.5,"v":40},{"w":310.2,"v":130},{"w":310.9,"v":40},{"w":311.6,"v":160},{"w":312.2,"v":40},{"w":312.8,"v":1800},{"w":313.4,"v":40},{"w":314.1,"v":150},{"w":314.8,"v":40},{"w":315.5,"v":130},{"w":316.2,"v":40},{"w":316.9,"v":130},{"w":317.6,"v":40},{"w":318.3,"v":150},{"w":319,"v":40},{"w":319.7,"v":120},{"w":320.4,"v":40},{"w":321.1,"v":130},{"w":321.8,"v":40},{"w":322.5,"v":150},{"w":323.2,"v":40},{"w":323.9,"v":150},{"w":324.6,"v":40},{"w":325.2,"v":5810},{"w":325.8,"v":40},{"w":326.5,"v":250},{"w":327.2,"v":40},{"w":328,"v":-200},{"w":328.7,"v":5730},{"w":329.3,"v":40},{"w":330,"v":250},{"w":330.7,"v":40},{"w":331.4,"v":200},{"w":332.1,"v":40},{"w":332.8,"v":300},{"w":333.5,"v":40},{"w":334.2,"v":220},{"w":334.9,"v":40},{"w":335.6,"v":200},{"w":336.3,"v":40},{"w":337,"v":250},{"w":337.7,"v":40},{"w":338.4,"v":200},{"w":339,"v":4320},{"w":339.6,"v":40},{"w":340.3,"v":300},{"w":341,"v":40},{"w":341.7,"v":250},{"w":342.4,"v":40},{"w":343.1,"v":280},{"w":343.8,"v":50},{"w":344.5,"v":300},{"w":345.2,"v":50},{"w":345.9,"v":280},{"w":346.6,"v":50},{"w":347.3,"v":350},{"w":348,"v":50},{"w":348.7,"v":320},{"w":349.4,"v":50},{"w":350.1,"v":400},{"w":350.8,"v":50},{"w":351.5,"v":350},{"w":352.2,"v":60},{"w":352.9,"v":450},{"w":353.6,"v":60},{"w":354.3,"v":400},{"w":355,"v":60},{"w":355.7,"v":1253},{"w":356.3,"v":60},{"w":357,"v":400},{"w":357.7,"v":60},{"w":358.4,"v":500},{"w":359.1,"v":60},{"w":359.8,"v":400},{"w":360.5,"v":60},{"w":361.2,"v":450},{"w":361.9,"v":60},{"w":362.6,"v":500},{"w":363.3,"v":70},{"w":364,"v":450},{"w":364.4,"v":1445},{"w":364.9,"v":70},{"w":365.6,"v":450},{"w":366.3,"v":70},{"w":367,"v":400},{"w":367.7,"v":70},{"w":368.4,"v":350},{"w":369.1,"v":70},{"w":369.8,"v":400},{"w":370.5,"v":70},{"w":371.2,"v":350},{"w":371.9,"v":80},{"w":372.6,"v":450},{"w":373.3,"v":80},{"w":374,"v":400},{"w":374.7,"v":80},{"w":375.4,"v":500},{"w":376.1,"v":80},{"w":376.8,"v":400},{"w":377.5,"v":90},{"w":378.2,"v":450},{"w":378.9,"v":90},{"w":379.6,"v":400},{"w":380.3,"v":90},{"w":381,"v":500},{"w":381.7,"v":100},{"w":382.4,"v":450},{"w":383.1,"v":100},{"w":383.8,"v":550},{"w":384.5,"v":100},{"w":385.2,"v":700},{"w":385.9,"v":110},{"w":386.6,"v":550},{"w":387.3,"v":110},{"w":388,"v":500},{"w":388.7,"v":1500},{"w":389.3,"v":110},{"w":390,"v":500},{"w":390.7,"v":120},{"w":391.4,"v":600},{"w":392.1,"v":120},{"w":392.8,"v":500},{"w":393.3,"v":120},{"w":393.7,"v":4300},{"w":394.2,"v":130},{"w":394.8,"v":550},{"w":395.4,"v":130},{"w":396,"v":450},{"w":396.6,"v":130},{"w":397.2,"v":3876},{"w":397.8,"v":130},{"w":398.4,"v":500},{"w":399,"v":130},{"w":399.6,"v":400},{"w":400.2,"v":130},{"w":400.8,"v":500},{"w":401.4,"v":140},{"w":402,"v":550},{"w":402.6,"v":140},{"w":403.2,"v":700},{"w":403.8,"v":150},{"w":404.4,"v":550},{"w":405,"v":150},{"w":405.6,"v":800},{"w":406.3,"v":150},{"w":406.9,"v":8690},{"w":407.4,"v":150},{"w":408,"v":700},{"w":408.6,"v":150},{"w":409.2,"v":600},{"w":409.8,"v":150},{"w":410.4,"v":700},{"w":411,"v":140},{"w":411.6,"v":550},{"w":412.2,"v":140},{"w":412.8,"v":500},{"w":413.4,"v":130},{"w":414,"v":500},{"w":414.6,"v":130},{"w":415.2,"v":450},{"w":415.8,"v":130},{"w":416.4,"v":400},{"w":417,"v":120},{"w":417.6,"v":450},{"w":418.2,"v":120},{"w":418.8,"v":400},{"w":419.4,"v":120},{"w":420,"v":450},{"w":420.6,"v":120},{"w":421.2,"v":450},{"w":421.8,"v":130},{"w":422.4,"v":550},{"w":423,"v":130},{"w":423.6,"v":650},{"w":424.2,"v":130},{"w":424.8,"v":500},{"w":425.4,"v":130},{"w":426,"v":450},{"w":426.6,"v":120},{"w":427.2,"v":400},{"w":427.8,"v":120},{"w":428.4,"v":400},{"w":429,"v":110},{"w":429.6,"v":350},{"w":430.2,"v":110},{"w":430.8,"v":350},{"w":431.4,"v":100},{"w":432,"v":450},{"w":432.6,"v":100},{"w":433.2,"v":300},{"w":433.8,"v":100},{"w":434.4,"v":300},{"w":435,"v":90},{"w":435.6,"v":280},{"w":436.2,"v":90},{"w":436.8,"v":250},{"w":437.4,"v":90},{"w":438,"v":280},{"w":438.6,"v":80},{"w":439.2,"v":250},{"w":439.8,"v":80},{"w":440.4,"v":250},{"w":441,"v":80},{"w":441.6,"v":220},{"w":442.2,"v":80},{"w":442.8,"v":220},{"w":443.4,"v":70},{"w":444,"v":220},{"w":444.6,"v":70},{"w":445.2,"v":200},{"w":445.8,"v":70},{"w":446.4,"v":200},{"w":447,"v":70},{"w":447.6,"v":220},{"w":448.2,"v":70},{"w":448.8,"v":200},{"w":449.3,"v":70},{"w":449.8,"v":2020},{"w":450.3,"v":70},{"w":450.9,"v":250},{"w":451.5,"v":70},{"w":452.1,"v":220},{"w":452.7,"v":60},{"w":453.3,"v":220},{"w":453.9,"v":60},{"w":454.5,"v":250},{"w":455.1,"v":60},{"w":455.7,"v":220},{"w":456.3,"v":60},{"w":456.9,"v":220},{"w":457.5,"v":60},{"w":458.1,"v":250},{"w":458.7,"v":60},{"w":459.3,"v":300},{"w":459.9,"v":60},{"w":460.5,"v":220},{"w":461,"v":1420},{"w":461.5,"v":60},{"w":462.1,"v":300},{"w":462.7,"v":60},{"w":463.3,"v":250},{"w":463.9,"v":60},{"w":464.5,"v":220},{"w":465.1,"v":60},{"w":465.6,"v":2667},{"w":466.1,"v":60},{"w":466.7,"v":250},{"w":467.3,"v":60},{"w":467.9,"v":220},{"w":468.5,"v":60},{"w":469.1,"v":220},{"w":469.7,"v":60},{"w":470.3,"v":250},{"w":470.9,"v":60},{"w":471.5,"v":250},{"w":472.1,"v":60},{"w":472.6,"v":900},{"w":473.1,"v":60},{"w":473.7,"v":220},{"w":474.3,"v":60},{"w":474.9,"v":220},{"w":475.5,"v":60},{"w":476.1,"v":250},{"w":476.7,"v":60},{"w":477.3,"v":220},{"w":477.9,"v":60},{"w":478.5,"v":220},{"w":479,"v":60},{"w":479.5,"v":7440},{"w":480,"v":60},{"w":480.6,"v":220},{"w":481.2,"v":60},{"w":481.8,"v":220},{"w":482.4,"v":50},{"w":483,"v":220},{"w":483.6,"v":50},{"w":484.2,"v":200},{"w":484.8,"v":50},{"w":485.4,"v":200},{"w":486,"v":50},{"w":486.6,"v":200},{"w":487.2,"v":50},{"w":487.8,"v":180},{"w":488.4,"v":50},{"w":489,"v":200},{"w":489.6,"v":50},{"w":490.2,"v":180},{"w":490.8,"v":50},{"w":491.4,"v":200},{"w":492,"v":50},{"w":492.6,"v":180},{"w":493.2,"v":50},{"w":493.8,"v":180},{"w":494.4,"v":50},{"w":495,"v":200},{"w":495.6,"v":50},{"w":496.2,"v":180},{"w":496.8,"v":50},{"w":497.4,"v":180},{"w":498,"v":50},{"w":498.6,"v":170},{"w":499.2,"v":50},{"w":499.8,"v":180},{"w":500.4,"v":50},{"w":501,"v":170},{"w":501.6,"v":50},{"w":502.2,"v":170},{"w":502.8,"v":40},{"w":503.4,"v":170},{"w":504,"v":40},{"w":504.6,"v":180},{"w":505.2,"v":40},{"w":505.8,"v":170},{"w":506.4,"v":40},{"w":507,"v":200},{"w":507.6,"v":40},{"w":508.2,"v":160},{"w":508.8,"v":40},{"w":509.4,"v":160},{"w":510,"v":40},{"w":510.5,"v":-250},{"w":511,"v":40},{"w":511.3,"v":2757},{"w":511.8,"v":40},{"w":512.4,"v":200},{"w":513,"v":40},{"w":513.6,"v":170},{"w":514.2,"v":40},{"w":514.8,"v":170},{"w":515.4,"v":40},{"w":515.9,"v":250},{"w":516.5,"v":3460},{"w":517,"v":40},{"w":517.6,"v":200},{"w":518.2,"v":40},{"w":518.8,"v":180},{"w":519.4,"v":40},{"w":520,"v":180},{"w":520.6,"v":40},{"w":521.2,"v":250},{"w":521.8,"v":40},{"w":522.4,"v":6097},{"w":522.9,"v":40},{"w":523.4,"v":2600},{"w":523.9,"v":40},{"w":524.5,"v":200},{"w":525.1,"v":40},{"w":525.7,"v":200},{"w":526.3,"v":40},{"w":526.9,"v":180},{"w":527.5,"v":40},{"w":528.1,"v":170},{"w":528.7,"v":40},{"w":529.3,"v":170},{"w":529.9,"v":40},{"w":530.5,"v":160},{"w":531.1,"v":40},{"w":531.7,"v":160},{"w":532.3,"v":40},{"w":532.9,"v":160},{"w":533.5,"v":40},{"w":534.1,"v":150},{"w":534.7,"v":40},{"w":535.3,"v":150},{"w":535.9,"v":40},{"w":536.5,"v":150},{"w":537.1,"v":40},{"w":537.7,"v":140},{"w":538.3,"v":40},{"w":538.9,"v":140},{"w":539.5,"v":40},{"w":540.1,"v":150},{"w":540.7,"v":40},{"w":541.3,"v":150},{"w":541.9,"v":40},{"w":542.5,"v":130},{"w":543.1,"v":40},{"w":543.7,"v":130},{"w":544.3,"v":40},{"w":544.9,"v":140},{"w":545.5,"v":40},{"w":546.1,"v":140},{"w":546.5,"v":40},{"w":547,"v":4100},{"w":547.5,"v":40},{"w":548.1,"v":140},{"w":548.7,"v":40},{"w":549.3,"v":140},{"w":549.9,"v":40},{"w":550.5,"v":140},{"w":551.1,"v":40},{"w":551.7,"v":120},{"w":552.3,"v":40},{"w":552.9,"v":120},{"w":553.5,"v":40},{"w":554.1,"v":110},{"w":554.7,"v":40},{"w":555.3,"v":110},{"w":555.9,"v":40},{"w":556.5,"v":100},{"w":557.1,"v":40},{"w":557.7,"v":90},{"w":558.3,"v":40},{"w":558.9,"v":90},{"w":559.5,"v":40},{"w":560,"v":40},{"w":562,"v":80},{"w":564,"v":30},{"w":566,"v":100},{"w":568,"v":30},{"w":570,"v":150},{"w":571,"v":30},{"w":573,"v":80},{"w":575,"v":30},{"w":577,"v":50},{"w":578,"v":30},{"w":578.7,"v":556},{"w":579.4,"v":30},{"w":581,"v":60},{"w":583.3,"v":30},{"w":584,"v":1107},{"w":584.7,"v":30},{"w":586,"v":60},{"w":588,"v":30},{"w":589.4,"v":30},{"w":590,"v":200},{"w":590.6,"v":30},{"w":593,"v":50},{"w":596.1,"v":30},{"w":596.8,"v":270},{"w":597.5,"v":30},{"w":600,"v":40},{"w":605,"v":30},{"w":610,"v":50},{"w":615,"v":35},{"w":620,"v":60},{"w":624,"v":50},{"w":627.2,"v":60},{"w":627.9,"v":1350},{"w":628.6,"v":70},{"w":632,"v":60},{"w":636.2,"v":50},{"w":636.8,"v":200},{"w":637.4,"v":50},{"w":645,"v":40},{"w":650,"v":50},{"w":655.7,"v":60},{"w":656.5,"v":1000},{"w":657.3,"v":80},{"w":660,"v":60},{"w":665,"v":40},{"w":670,"v":50},{"w":675,"v":40},{"w":678.4,"v":40},{"w":679,"v":270},{"w":679.6,"v":40},{"w":685,"v":40},{"w":690,"v":60},{"w":696.3,"v":50},{"w":697,"v":1700},{"w":697.7,"v":50},{"w":702,"v":40},{"w":706.7,"v":50},{"w":707.4,"v":1272},{"w":708.1,"v":50},{"w":714,"v":40},{"w":714.6,"v":170},{"w":715.2,"v":40},{"w":720,"v":40},{"w":727.9,"v":40},{"w":728.5,"v":315},{"w":729.1,"v":40},{"w":735,"v":50},{"w":738.2,"v":60},{"w":738.9,"v":1700},{"w":739.6,"v":80},{"w":745,"v":60},{"w":751,"v":50},{"w":751.7,"v":1300},{"w":752.4,"v":50},{"w":758,"v":50},{"w":763.1,"v":60},{"w":763.8,"v":1380},{"w":764.5,"v":40},{"w":768.3,"v":40},{"w":768.9,"v":300},{"w":769.5,"v":40},{"w":772.3,"v":40},{"w":773,"v":1200},{"w":773.7,"v":40},{"w":777.7,"v":40},{"w":778.3,"v":200},{"w":779,"v":40},{"w":785,"v":40},{"w":790,"v":50},{"w":794.9,"v":40},{"w":795.6,"v":850},{"w":796.3,"v":40},{"w":801.8,"v":40},{"w":802.5,"v":700},{"w":803.2,"v":40},{"w":808,"v":40},{"w":811.4,"v":60},{"w":812.1,"v":2350},{"w":812.8,"v":60},{"w":818,"v":40},{"w":822,"v":30},{"w":827.1,"v":30},{"w":827.7,"v":350},{"w":828.4,"v":30},{"w":835,"v":30},{"w":842.6,"v":40},{"w":843.3,"v":710},{"w":844,"v":40},{"w":852.4,"v":30},{"w":853,"v":300},{"w":853.7,"v":30},{"w":860,"v":25},{"w":870,"v":30},{"w":880,"v":25},{"w":890,"v":30},{"w":900,"v":25}]
},
"resolve":{"axis":{"x":"independent","y":"independent"}},
"layer":[
{"data":{"name":"k"},"mark":{"type":"line","strokeWidth":1,"clip":true},
 "encoding":{
  "x":{"field":"w","type":"quantitative","scale":{"domain":[180,900],"nice":false,"zero":false},"axis":{"orient":"bottom","title":"Wavelength (nm)","format":"d","values":[200,300,400,500,600,700,800,900],"tickSize":10,"labelPadding":4,"titlePadding":20}},
  "y":{"field":"v","type":"quantitative","scale":{"domain":[-500,10000],"nice":false,"zero":false},"axis":{"orient":"left","title":"Intensity (a.u.)","format":"d","values":[0,2000,4000,6000,8000,10000],"tickSize":10,"labelPadding":4,"titlePadding":32}},
  "color":{"datum":"Surgical screw R Femur 1","type":"nominal","scale":{"domain":["Surgical screw R Femur 1","Surgical screw R Femur 2","Maxillary M2 R Metallic Crown","Mandibular L M1 Metallic Crown"],"range":["#000000","#ff0000","#0000ff","#ff00ff"]},
   "legend":{"title":null,"orient":"none","legendX":492,"legendY":-89,"symbolType":"stroke","symbolSize":1296,"symbolStrokeWidth":1.6,"labelFont":"Liberation Serif","labelFontSize":16.5,"labelColor":"black","labelLimit":400,"strokeColor":"black","fillColor":"white","padding":7,"rowPadding":0,"clipHeight":21,"symbolOffset":29,"labelOffset":5}}}},
{"data":{"name":"r"},"mark":{"type":"line","strokeWidth":1,"clip":true},
 "encoding":{
  "x":{"field":"w","type":"quantitative","axis":{"orient":"bottom","values":[250,350,450,550,650,750,850],"tickSize":7,"labels":false,"domain":false,"title":null}},
  "y":{"field":"v","type":"quantitative","axis":{"orient":"left","values":[1000,3000,5000,7000,9000],"tickSize":7,"labels":false,"domain":false,"title":null}},
  "color":{"datum":"Surgical screw R Femur 2","type":"nominal"}}},
{"data":{"name":"b"},"mark":{"type":"line","strokeWidth":1,"clip":true},
 "encoding":{
  "x":{"field":"w","type":"quantitative","axis":null},
  "y":{"field":"v","type":"quantitative","axis":null},
  "color":{"datum":"Maxillary M2 R Metallic Crown","type":"nominal"}}},
{"data":{"name":"m"},"mark":{"type":"line","strokeWidth":1,"clip":true},
 "encoding":{
  "x":{"field":"w","type":"quantitative","axis":null},
  "y":{"field":"v","type":"quantitative","axis":null},
  "color":{"datum":"Mandibular L M1 Metallic Crown","type":"nominal"}}}
]
}
